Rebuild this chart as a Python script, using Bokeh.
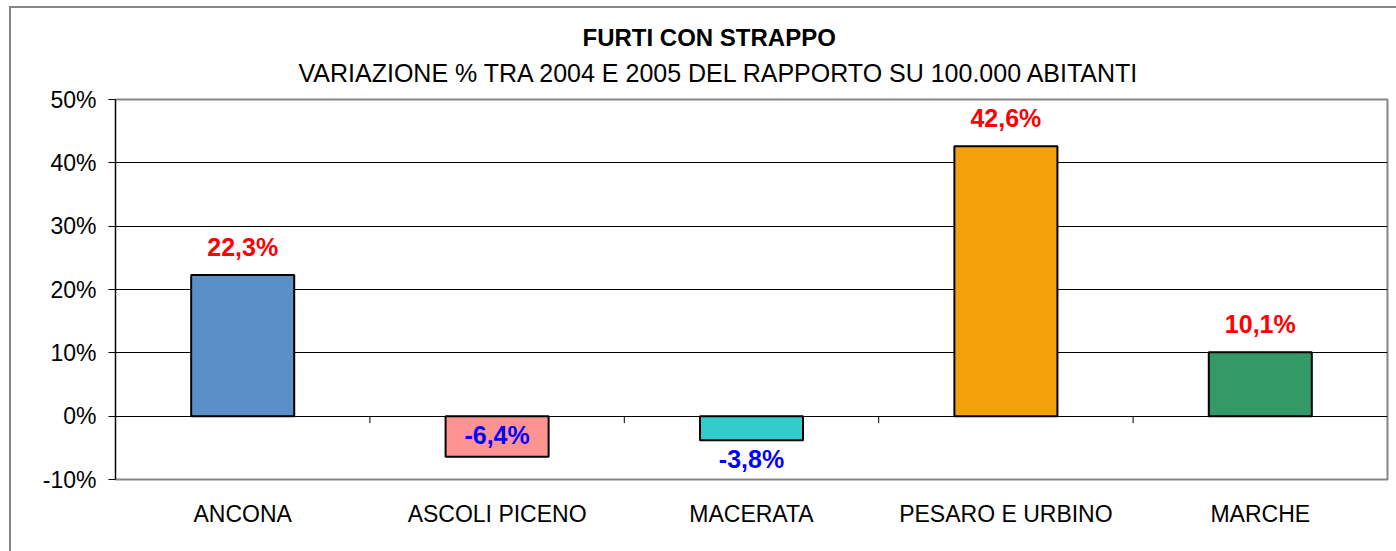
from bokeh.plotting import figure
from bokeh.models import FixedTicker, Title, ColumnDataSource
from bokeh.core.properties import value
from bokeh.embed import file_html
from bokeh.resources import INLINE

# ---- data ----
categories = ["ANCONA", "ASCOLI PICENO", "MACERATA", "PESARO E URBINO", "MARCHE"]
variation = [22.3, -6.4, -3.8, 42.6, 10.1]
bar_colors = ["#5B8FC8", "#FF9391", "#33CCCC", "#F4A00A", "#339966"]
y_ticks = [-10, 0, 10, 20, 30, 40, 50]
title_text = "FURTI CON STRAPPO"
subtitle_text = "VARIAZIONE % TRA 2004 E 2005 DEL RAPPORTO SU 100.000 ABITANTI"

FONT = "Liberation Sans"
y_min, y_max = -10, 50
frame_w, frame_h = 1272, 380
px_per_unit = frame_h / (y_max - y_min)

n = len(categories)
centers = [i + 0.5 for i in range(n)]

p = figure(
    width=1385, height=543,
    frame_width=frame_w, frame_height=frame_h,
    min_border_left=104, min_border_right=9, min_border_top=91, min_border_bottom=72,
    x_range=(0, n), y_range=(y_min, y_max),
    output_backend="svg", toolbar_location=None,
)
p.styles = {"border-left": "2px solid #868686", "border-top": "2px solid #868686",
            "margin-left": "9px", "margin-top": "6px"}
p.background_fill_color = "white"
p.border_fill_color = "white"
p.outline_line_color = "#868686"
p.outline_line_width = 2

# grid
p.xgrid.visible = False
p.ygrid.ticker = FixedTicker(ticks=[t for t in y_ticks if y_min < t < y_max])
p.ygrid.grid_line_color = "black"
p.ygrid.grid_line_width = 1

# y axis
p.yaxis.ticker = FixedTicker(ticks=y_ticks)
p.yaxis.major_label_overrides = {t: f"{t}%" for t in y_ticks}
p.yaxis.axis_line_color = "black"
p.yaxis.major_tick_line_color = "black"
p.yaxis.major_tick_out = 7
p.yaxis.major_tick_in = 0
p.yaxis.minor_tick_line_color = None
p.yaxis.major_label_standoff = 12
p.yaxis.major_label_text_font = FONT
p.yaxis.major_label_text_font_size = "23px"
p.yaxis.major_label_text_color = "black"

# x axis
p.xaxis.ticker = FixedTicker(ticks=centers)
p.xaxis.major_label_overrides = {c: name for c, name in zip(centers, categories)}
p.xaxis.axis_line_color = None
p.xaxis.major_tick_line_color = None
p.xaxis.minor_tick_line_color = None
p.xaxis.major_label_standoff = 15
p.xaxis.major_label_text_font = FONT
p.xaxis.major_label_text_font_size = "23px"
p.xaxis.major_label_text_color = "black"

# category separator ticks on the zero line
tick_len = 7 / px_per_unit
sep = list(range(1, n))
p.segment(x0=sep, x1=sep, y0=[0] * len(sep), y1=[-tick_len] * len(sep),
          line_color="black", line_width=1)

# bars
src = ColumnDataSource(dict(x=centers, top=variation, color=bar_colors))
p.vbar(x="x", top="top", bottom=0, width=0.405, source=src,
       fill_color="color", line_color="black", line_width=2)

# data labels
label_h = 26 / px_per_unit
lx, ly, lt, lc, loff = [], [], [], [], []
for c, v in zip(centers, variation):
    txt = f"{v:.1f}%".replace(".", ",")
    lx.append(c)
    lt.append(txt)
    if v >= 0:
        ly.append(v); lc.append("#FF0000"); loff.append(-28)
    else:
        lc.append("#0000FF")
        ly.append(0 if v - label_h < y_min else v)
        loff.append(19)
lsrc = ColumnDataSource(dict(x=lx, y=ly, t=lt, c=lc, off=loff))
p.text(x="x", y="y", text="t", y_offset="off", source=lsrc, text_color="c",
       text_align="center", text_baseline="alphabetic",
       text_font=value(FONT), text_font_size="25px", text_font_style="bold")

# titles (subtitle first = closest to the frame)
p.add_layout(Title(text=subtitle_text, align="left", offset=183,
                   text_font=FONT, text_font_size="25px", text_font_style="normal",
                   text_color="black", standoff=25), "above")
p.add_layout(Title(text=title_text, align="left", offset=467,
                   text_font=FONT, text_font_size="24px", text_font_style="bold",
                   text_color="black", standoff=-12), "above")

open("out.html", "w").write(file_html(p, INLINE))
